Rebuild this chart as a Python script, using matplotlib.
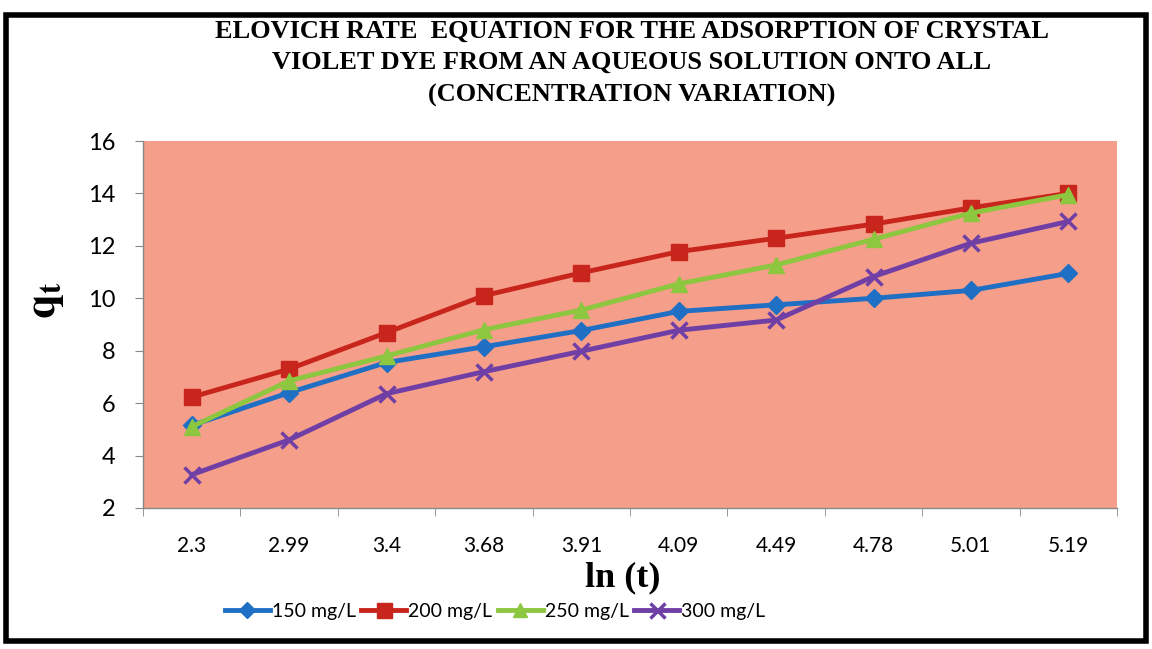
import matplotlib
matplotlib.use('Agg')
import matplotlib.pyplot as plt
from matplotlib.patches import Rectangle
import numpy as np

plt.rcParams['mathtext.fontset'] = 'stix'

# data
ln_t = ['2.3', '2.99', '3.4', '3.68', '3.91', '4.09', '4.49', '4.78', '5.01', '5.19']
q_150 = [5.15, 6.4, 7.55, 8.15, 8.77, 9.5, 9.75, 10.0, 10.3, 10.95]
q_200 = [6.23, 7.3, 8.69, 10.1, 10.97, 11.78, 12.29, 12.83, 13.45, 14.0]
q_250 = [5.1, 6.85, 7.8, 8.8, 9.55, 10.55, 11.27, 12.25, 13.25, 13.95]
q_300 = [3.27, 4.6, 6.36, 7.2, 7.98, 8.78, 9.17, 10.83, 12.1, 12.93]
series_labels = ['150 mg/L', '200 mg/L', '250 mg/L', '300 mg/L']

BG = '#F59E8A'
COLORS = ['#1F6FC4', '#C8261C', '#8DC63F', '#6F3FA6']
MARKERS = ['D', 's', '^', 'x']
MSIZES = [9, 12, 11, 12]

fig = plt.figure(figsize=(11.52, 6.49), dpi=100)
ax = fig.add_axes([143/1152, 1-508/649, (1117-143)/1152, (508-141)/649])
ax.set_facecolor(BG)

x = np.arange(len(ln_t))
for ys, c, m, ms, lab in zip([q_150, q_200, q_250, q_300], COLORS, MARKERS, MSIZES, series_labels):
    ax.plot(x, ys, color=c, lw=3.5, marker=m, markersize=ms, mew=2.5 if m == 'x' else 1,
            markeredgecolor=c, markerfacecolor=c, label=lab)

ax.set_xlim(-0.5, len(ln_t)-0.5)
ax.set_ylim(2, 16)
ax.set_yticks(np.arange(2, 17, 2))
ax.set_xticks(x)
ax.set_xticklabels(ln_t)
ax.set_xticks(np.arange(-0.5, len(ln_t), 1), minor=True)
ax.tick_params(axis='x', which='major', length=0, pad=20, labelsize=15)
ax.tick_params(axis='x', which='minor', length=6, color='#888888')
ax.tick_params(axis='y', length=6, color='#888888', pad=14, labelsize=17)
for lbl in ax.get_xticklabels() + ax.get_yticklabels():
    lbl.set_fontfamily('Lato')

for s in ['top', 'right']:
    ax.spines[s].set_visible(False)
for s in ['left', 'bottom']:
    ax.spines[s].set_color('#888888')
    ax.spines[s].set_linewidth(1)

title_lines = ['ELOVICH RATE  EQUATION FOR THE ADSORPTION OF CRYSTAL',
               'VIOLET DYE FROM AN AQUEOUS SOLUTION ONTO ALL',
               '(CONCENTRATION VARIATION)']
for line, ypx in zip(title_lines, [31, 62, 95]):
    fig.text(632/1152, 1-ypx/649, line, ha='center', va='center', fontsize=19,
             fontweight='bold', family='Liberation Serif')

fig.text(45/1152, 1-300/649, r'$\mathbf{q_t}$', rotation=90, ha='center', va='center', fontsize=32)
fig.text(623/1152, 1-578/649, 'ln (t)', ha='center', va='center', fontsize=26,
         fontweight='bold', family='Liberation Serif')

fig.legend(loc='center', bbox_to_anchor=(495/1152, 1-611/649), ncol=4, frameon=False,
           prop={'family': 'Lato', 'size': 14}, handlelength=2.3, handletextpad=0.1,
           columnspacing=0.3, markerscale=0.9)

fig.patches.append(Rectangle((6/1152, 8/649), 1140/1152, 626/649, transform=fig.transFigure,
                             fill=False, edgecolor='black', linewidth=4))

fig.savefig('out.png', dpi=100)
